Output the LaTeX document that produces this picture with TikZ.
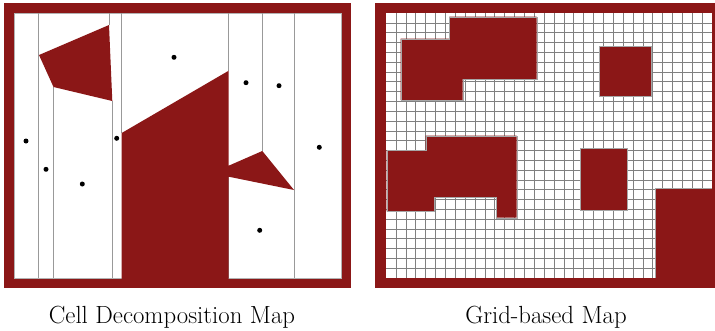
\documentclass[tikz,border=0pt]{standalone}
\definecolor{mapred}{RGB}{139,23,23}
\tikzset{
  obst/.style={fill=mapred, draw=gray!70, line width=0.25pt},
  cellline/.style={draw=gray!80, line width=0.7pt},
  gridline/.style={draw=black!50, line width=0.5pt},
  waypt/.style={fill=black},
  caption/.style={anchor=base, inner sep=0pt, font=\fontsize{24.8}{29}\selectfont}
}
\begin{document}
\begin{tikzpicture}[x=1pt,y=-1pt]
\useasboundingbox (0,0) rectangle (715,330);
\clip (0,0) rectangle (715,330);

% ---------- Left map: cell decomposition ----------
\fill[mapred] (4,3) rectangle (351,288);
\fill[white, draw=gray!60, line width=0.3pt] (14,13) rectangle (341,278);

% cell boundaries
\draw[cellline] (38,13) -- (38,278);
\draw[cellline] (53.5,87) -- (53.5,278);
\draw[cellline] (109,13) -- (109,25);
\draw[cellline] (112.3,101) -- (112.3,278);
\draw[cellline] (121.7,13) -- (121.7,133);
\draw[cellline] (228.7,13) -- (228.7,71);
\draw[cellline] (228.7,176) -- (228.7,278);
\draw[cellline] (262.3,13) -- (262.3,151);
\draw[cellline] (294,13) -- (294,278);

% obstacles
\fill[mapred] (39,55) -- (109,25) -- (112.3,101) -- (53.5,87) -- cycle;
\fill[mapred] (121.7,133) -- (228.7,70.7) -- (228.7,176.7) -- (294,190) -- (262.3,151) -- (228.7,165.7) -- (228.7,280) -- (121.7,280) -- cycle;

% sample points
\foreach \p in {(174,57.3),(26,141),(116.7,138.3),(246,82.7),(279,85.7),(319.3,147.3),(46,169.3),(82.3,184),(259.7,230.3)}
  \fill[waypt] \p circle (2.5);

\node[caption] (capL) at (172,323) {Cell Decomposition Map};

% ---------- Right map: grid ----------
\fill[mapred] (375,3) rectangle (722,288);
\fill[white] (386,13) rectangle (712,278);
\foreach \i in {1,...,32}
  \draw[gridline] ({386+\i*326/33},13) -- ({386+\i*326/33},278);
\foreach \j in {1,...,26}
  \draw[gridline] (386,{13+\j*265/27}) -- (712,{13+\j*265/27});

% obstacles
\filldraw[obst] (449.3,16.7) -- (536.7,16.7) -- (536.7,79) -- (462.7,79) -- (462.7,100) -- (400.7,100) -- (400.7,38.7) -- (449.3,38.7) -- cycle;
\filldraw[obst] (425.7,135.7) -- (516.7,135.7) -- (516.7,217.7) -- (496,217.7) -- (496,197.3) -- (434,197.3) -- (434,211.3) -- (386.7,211.3) -- (386.7,150) -- (425.7,150) -- cycle;
\filldraw[obst] (599.3,46.3) rectangle (651.3,95.7);
\filldraw[obst] (579.7,148.3) rectangle (626.7,210);
\fill[mapred] (654.7,187.7) rectangle (713,279);
\draw[gray!70, line width=0.25pt] (654.7,278) -- (654.7,187.7) -- (712,187.7);

\node[caption] (capR) at (546,323) {Grid-based Map};
\end{tikzpicture}
\end{document}
